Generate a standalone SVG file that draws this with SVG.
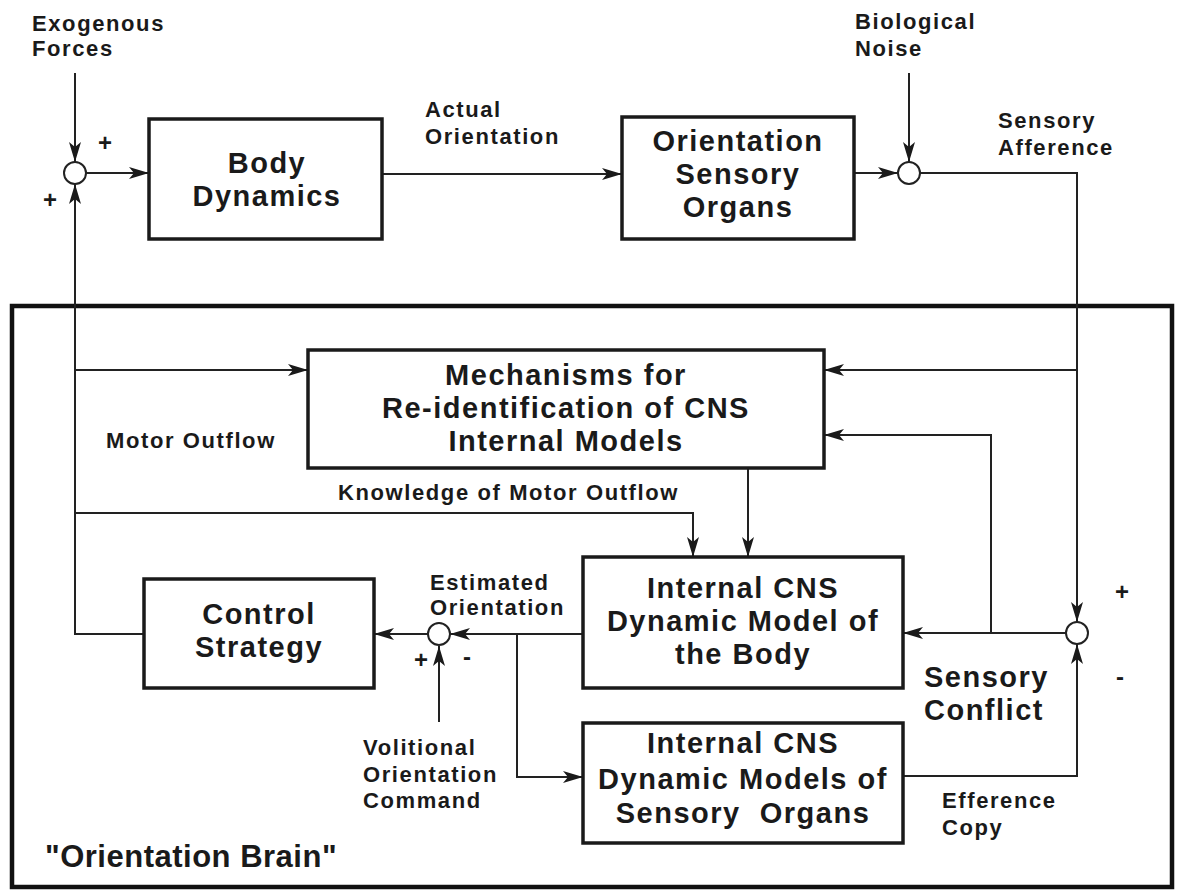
<svg xmlns="http://www.w3.org/2000/svg" width="1178" height="891" viewBox="0 0 1178 891">
<style>
.box{fill:none;stroke:#1a1a1a;stroke-width:3.5}
.brain{fill:none;stroke:#111;stroke-width:4.5}
.ln{fill:none;stroke:#222;stroke-width:2}
.sum{fill:#fff;stroke:#222;stroke-width:2}
.t{font-family:"Liberation Sans",Arial,sans-serif;font-weight:bold;font-size:29px;letter-spacing:1.5px;fill:#1a1a1a;text-anchor:middle}
.l{font-family:"Liberation Sans",Arial,sans-serif;font-weight:bold;font-size:22px;letter-spacing:1.6px;fill:#1a1a1a}
.b{font-family:"Liberation Sans",Arial,sans-serif;font-weight:bold;font-size:29px;letter-spacing:1.5px;fill:#1a1a1a}
.s{font-family:"Liberation Sans",Arial,sans-serif;font-weight:bold;font-size:24px;fill:#1a1a1a;text-anchor:middle}
</style>
<defs>
<marker id="ah" markerUnits="userSpaceOnUse" markerWidth="22" markerHeight="12" refX="20" refY="6" orient="auto">
<path d="M0,0 L20,6 L0,12 L5,6 z" fill="#1a1a1a"/>
</marker>
</defs>
<rect width="1178" height="891" fill="#fff"/>

<g id="orientation-brain">
<rect class="brain" x="12" y="306" width="1160" height="581"/>
<text class="b" x="45" y="867" style="font-size:31px;letter-spacing:0.5px">"Orientation Brain"</text>
</g>

<g id="connectors">
<line class="ln" x1="75" y1="73" x2="75" y2="162" marker-end="url(#ah)"/>
<line class="ln" x1="86" y1="173" x2="149" y2="173" marker-end="url(#ah)"/>
<line class="ln" x1="382" y1="174" x2="622" y2="174" marker-end="url(#ah)"/>
<line class="ln" x1="854" y1="173" x2="898" y2="173" marker-end="url(#ah)"/>
<line class="ln" x1="909" y1="73" x2="909" y2="162" marker-end="url(#ah)"/>
<polyline class="ln" points="920,173 1077,173 1077,622" marker-end="url(#ah)"/>
<polyline class="ln" points="1077,370 824,370" marker-end="url(#ah)"/>
<line class="ln" x1="1066" y1="633" x2="903" y2="633" marker-end="url(#ah)"/>
<polyline class="ln" points="991,633 991,435 824,435" marker-end="url(#ah)"/>
<line class="ln" x1="748" y1="468" x2="748" y2="557" marker-end="url(#ah)"/>
<polyline class="ln" points="76,513 693,513 693,557" marker-end="url(#ah)"/>
<polyline class="ln" points="144,634 75,634 75,184" marker-end="url(#ah)"/>
<line class="ln" x1="75" y1="370" x2="308" y2="370" marker-end="url(#ah)"/>
<line class="ln" x1="583" y1="634" x2="450" y2="634" marker-end="url(#ah)"/>
<line class="ln" x1="428" y1="634" x2="374" y2="634" marker-end="url(#ah)"/>
<line class="ln" x1="439" y1="722" x2="439" y2="646" marker-end="url(#ah)"/>
<polyline class="ln" points="517,634 517,777 583,777" marker-end="url(#ah)"/>
<polyline class="ln" points="903,776 1077,776 1077,644" marker-end="url(#ah)"/>
</g>

<g id="sum-body">
<circle class="sum" cx="75" cy="173" r="11"/>
<text class="s" x="105" y="151">+</text>
<text class="s" x="50" y="208">+</text>
</g>
<g id="sum-noise">
<circle class="sum" cx="909" cy="173" r="11"/>
</g>
<g id="sum-conflict">
<circle class="sum" cx="1077" cy="633" r="11"/>
<text class="s" x="1122" y="600">+</text>
<text class="s" x="1120" y="685">-</text>
</g>
<g id="sum-estimate">
<circle class="sum" cx="439" cy="634" r="11"/>
<text class="s" x="421" y="668">+</text>
<text class="s" x="467" y="665">-</text>
</g>

<g id="body-dynamics">
<rect class="box" x="149" y="119" width="233" height="120"/>
<text class="t" x="267" y="173">Body</text>
<text class="t" x="267" y="206">Dynamics</text>
</g>
<g id="orientation-sensory-organs">
<rect class="box" x="622" y="117" width="232" height="122"/>
<text class="t" x="738" y="151">Orientation</text>
<text class="t" x="738" y="184">Sensory</text>
<text class="t" x="738" y="217">Organs</text>
</g>
<g id="mechanisms">
<rect class="box" x="308" y="350" width="516" height="118"/>
<text class="t" x="566" y="385">Mechanisms for</text>
<text class="t" x="566" y="418">Re-identification of CNS</text>
<text class="t" x="566" y="451">Internal Models</text>
</g>
<g id="internal-body-model">
<rect class="box" x="583" y="557" width="320" height="131"/>
<text class="t" x="743" y="598">Internal CNS</text>
<text class="t" x="743" y="631">Dynamic Model of</text>
<text class="t" x="743" y="664">the Body</text>
</g>
<g id="internal-sensory-models">
<rect class="box" x="583" y="723" width="320" height="120"/>
<text class="t" x="743" y="753">Internal CNS</text>
<text class="t" x="743" y="789">Dynamic Models of</text>
<text class="t" x="743" y="823" style="white-space:pre">Sensory  Organs</text>
</g>
<g id="control-strategy">
<rect class="box" x="144" y="579" width="230" height="109"/>
<text class="t" x="259" y="624">Control</text>
<text class="t" x="259" y="657">Strategy</text>
</g>

<g id="labels">
<text class="l" x="32" y="31">Exogenous</text>
<text class="l" x="32" y="56">Forces</text>
<text class="l" x="425" y="117">Actual</text>
<text class="l" x="425" y="144">Orientation</text>
<text class="l" x="855" y="29">Biological</text>
<text class="l" x="855" y="56">Noise</text>
<text class="l" x="998" y="128">Sensory</text>
<text class="l" x="998" y="155">Afference</text>
<text class="l" x="106" y="448">Motor Outflow</text>
<text class="l" x="338" y="500">Knowledge of Motor Outflow</text>
<text class="l" x="430" y="590">Estimated</text>
<text class="l" x="430" y="615">Orientation</text>
<text class="l" x="363" y="755">Volitional</text>
<text class="l" x="363" y="782">Orientation</text>
<text class="l" x="363" y="808">Command</text>
<text class="l" x="942" y="808">Efference</text>
<text class="l" x="942" y="835">Copy</text>
<text class="b" x="924" y="687">Sensory</text>
<text class="b" x="924" y="720">Conflict</text>
</g>
</svg>
